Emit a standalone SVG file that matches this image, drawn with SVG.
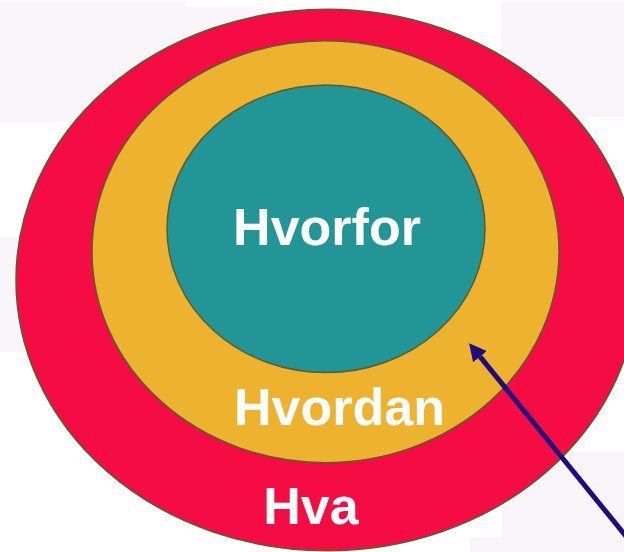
<svg xmlns="http://www.w3.org/2000/svg" width="624" height="552" viewBox="0 0 624 552">
<style>
.bg{fill:#f8f6f8}
.ring{stroke:#5b5a32;stroke-width:1.5}
.lbl{font-family:"Liberation Sans",Arial,sans-serif;font-weight:bold;font-size:52px;fill:#ffffff;text-anchor:middle}
</style>
<defs>
<marker id="ah" viewBox="0 0 10 10" refX="0" refY="5" markerWidth="3.45" markerHeight="3.55" markerUnits="strokeWidth" orient="auto" preserveAspectRatio="none">
<path d="M0,0 L10,5 L0,10 z" fill="#1f0a80"/>
</marker>
</defs>
<rect width="624" height="552" fill="#ffffff"/>
<g id="background">
<rect class="bg" x="0" y="2" width="185" height="120"/>
<rect class="bg" x="185" y="7" width="80" height="115"/>
<rect class="bg" x="501" y="2" width="123" height="115"/>
<rect class="bg" x="0" y="237" width="40" height="115"/>
<rect class="bg" x="502" y="452" width="122" height="100"/>
<rect class="bg" x="470" y="537" width="40" height="15"/>
</g>
<g id="hva">
<ellipse class="ring" cx="327" cy="280" rx="311" ry="270.7" fill="#f40c43"/>
<text class="lbl" x="311" y="524">Hva</text>
</g>
<g id="hvordan">
<ellipse class="ring" cx="325.5" cy="251.7" rx="233.5" ry="211" fill="#edb32f"/>
<text class="lbl" x="339.5" y="425">Hvordan</text>
</g>
<g id="hvorfor">
<ellipse class="ring" cx="326" cy="228.8" rx="159" ry="143.8" fill="#229696"/>
<text class="lbl" x="327" y="245">Hvorfor</text>
</g>
<g id="connectors">
<line x1="640" y1="553.4" x2="480" y2="356.7" stroke="#1f0a80" stroke-width="5" marker-end="url(#ah)"/>
</g>
</svg>
